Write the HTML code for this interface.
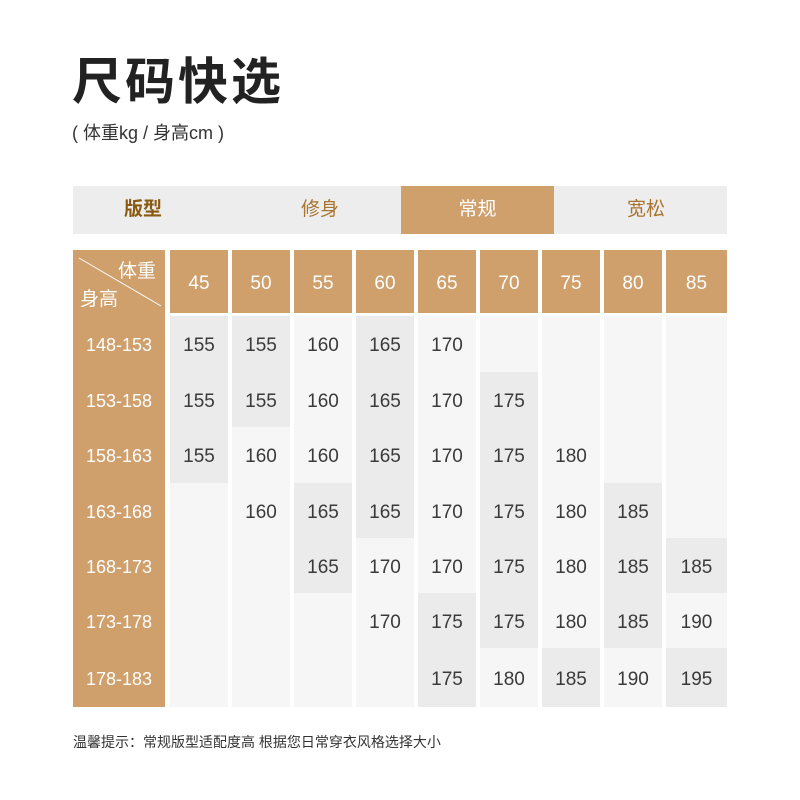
<!DOCTYPE html>
<html><head><meta charset="utf-8"><style>
body{margin:0;width:800px;height:800px;background:#fff;position:relative;overflow:hidden;font-family:"Liberation Sans","Noto Sans CJK SC",sans-serif}
.a{position:absolute}
.t{position:absolute;text-align:center;font-size:19px;color:#3a3a3a}
.o{background:#cf9f6c}
</style></head><body>
<div class="a" style="left:72px;top:48px;font-size:50px;font-weight:bold;color:#222;letter-spacing:3px;font-family:'Noto Sans CJK SC',sans-serif;line-height:60px">尺码快选</div>
<div class="a" style="left:72px;top:121px;font-size:18px;color:#333;line-height:24px">( 体重kg / 身高cm )</div>
<div class="a" style="left:73px;top:186px;width:654px;height:48px;background:#ededed"></div>
<div class="a o" style="left:401px;top:186px;width:153px;height:48px"></div>
<div class="t" style="left:73px;top:197px;width:140px;color:#8a5a12;font-weight:bold;line-height:26px">版型</div>
<div class="t" style="left:245px;top:197px;width:150px;color:#a8742e;line-height:26px">修身</div>
<div class="t" style="left:401px;top:197px;width:153px;color:#fff;line-height:26px">常规</div>
<div class="t" style="left:566px;top:197px;width:160px;color:#a8742e;line-height:26px">宽松</div>
<div class="a o" style="left:73px;top:250px;width:92px;height:457px"></div>
<svg class="a" style="left:73px;top:250px" width="92" height="63"><line x1="6" y1="8" x2="88" y2="56" stroke="#fff" stroke-width="1"/></svg>
<div class="a" style="left:118px;top:256px;color:#fff;font-size:19px">体重</div>
<div class="a" style="left:80px;top:284px;color:#fff;font-size:19px">身高</div>
<div id="g"></div>
<div class="a" style="left:73px;top:732px;font-size:14px;color:#333">温馨提示：常规版型适配度高 根据您日常穿衣风格选择大小</div>
<script>
var xs=[170,232,294,356,418,480,542,604,666],w=[58,58,58,58,58,58,58,58,61];
var hw=[45,50,55,60,65,70,75,80,85];
var rows=["148-153","153-158","158-163","163-168","168-173","173-178","178-183"];
var data=[[155,155,160,165,170,"","","",""],[155,155,160,165,170,175,"","",""],[155,160,160,165,170,175,180,"",""],["",160,165,165,170,175,180,185,""],["","",165,170,170,175,180,185,185],["","","",170,175,175,180,185,190],["","","","",175,180,185,190,195]];
var dark=[[0,1,2],[0,1],[3,4],[0,1,2,3],[5,6],[1,2,3,4,5],[6],[3,4,5],[4,6]];
var rt=[316,372,427,483,538,593,648,707];
var h="";
for(var c=0;c<9;c++){
h+='<div class="a o" style="left:'+xs[c]+'px;top:250px;width:'+w[c]+'px;height:63px"></div>';
h+='<div class="t" style="left:'+xs[c]+'px;top:273px;width:'+w[c]+'px;color:#fff">'+hw[c]+'</div>';
h+='<div class="a" style="left:'+xs[c]+'px;top:316px;width:'+w[c]+'px;height:391px;background:#f6f6f6"></div>';
dark[c].forEach(function(r){h+='<div class="a" style="left:'+xs[c]+'px;top:'+rt[r]+'px;width:'+w[c]+'px;height:'+(rt[r+1]-rt[r])+'px;background:#ebebeb"></div>';});
}
for(var r=0;r<7;r++){
var cy=(rt[r]+rt[r+1])/2-9;
h+='<div class="t" style="left:73px;top:'+cy+'px;width:92px;color:#fff;font-size:18px">'+rows[r]+'</div>';
for(var c=0;c<9;c++)h+='<div class="t" style="left:'+xs[c]+'px;top:'+cy+'px;width:'+w[c]+'px">'+data[r][c]+'</div>';
}
document.getElementById("g").innerHTML=h;
</script>
</body></html>
